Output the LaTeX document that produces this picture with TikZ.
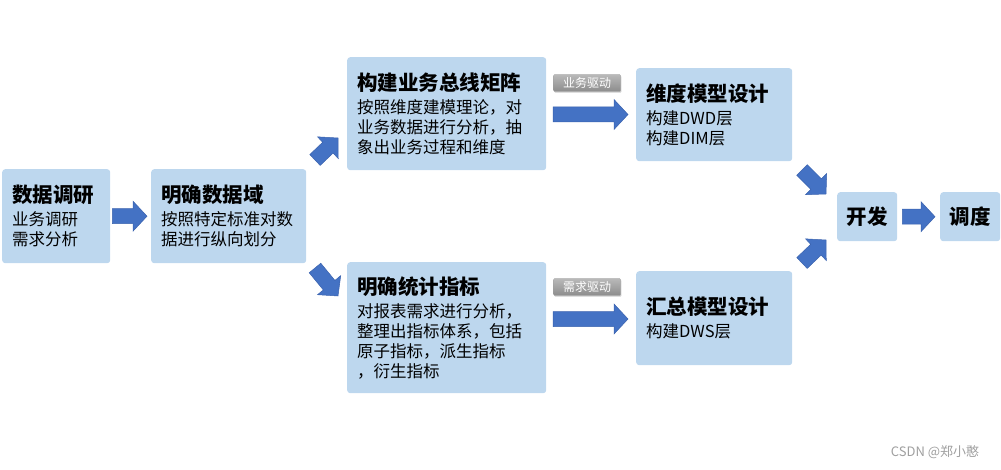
\documentclass[tikz,border=0pt]{standalone}
\usepackage{fontspec}
\setmainfont{Noto Sans CJK SC}
\usetikzlibrary{calc,shadows}
\definecolor{boxblue}{HTML}{BDD7EE}
\definecolor{arrowblue}{HTML}{4472C4}
\definecolor{arrowedge}{HTML}{3A62AE}
% block arrow from tail #1 to tip #2
\newcommand\blockarrow[2]{%
  \coordinate (hb) at ($(#2)!14pt!(#1)$);
  \filldraw[barrow] ($(#1)!7.5pt!90:(#2)$) -- ($(hb)!7.5pt!90:(#2)$) -- ($(hb)!15pt!90:(#2)$)
    -- (#2) -- ($(hb)!15pt!-90:(#2)$) -- ($(hb)!7.5pt!-90:(#2)$) -- ($(#1)!7.5pt!-90:(#2)$) -- cycle;}
\newcommand\boxtitle[1]{{\fontsize{20.5}{24}\bfseries #1}}
\begin{document}
\begin{tikzpicture}[x=1pt,y=-1pt,
  box/.style={fill=boxblue,rounded corners=3pt,anchor=north west,inner xsep=10pt,inner ysep=0pt,
    align=left,font=\fontsize{16.5}{20}\selectfont},
  smallbox/.style={fill=boxblue,rounded corners=3pt,anchor=north west,minimum width=60,minimum height=49,
    font=\fontsize{20.5}{24}\bfseries},
  tagbox/.style={top color=gray!55,bottom color=gray!90,draw=gray!75,line width=0.3pt,text=white,
    font=\fontsize{12}{14}\selectfont,minimum width=67,minimum height=17,inner sep=0pt,rounded corners=1pt,
    drop shadow={shadow xshift=0.8pt,shadow yshift=-1.2pt,opacity=0.4}},
  barrow/.style={fill=arrowblue,draw=arrowedge,line width=0.5pt}]
\useasboundingbox (0,0) rectangle (1001,470);
% boxes
\node[box,text width=88,minimum height=94] (research) at (2,169)
  {\boxtitle{数据调研}\\[3pt]业务调研\\需求分析};
\node[box,text width=135,minimum height=94] (domain) at (151,169)
  {\boxtitle{明确数据域}\\[3pt]按照特定标准对数\\据进行纵向划分};
\node[box,text width=179,minimum height=113] (busmatrix) at (347,57)
  {\boxtitle{构建业务总线矩阵}\\[3pt]按照维度建模理论，对\\业务数据进行分析，抽\\象出业务过程和维度};
\node[box,text width=179,minimum height=131] (metric) at (347,262)
  {\boxtitle{明确统计指标}\\[3pt]对报表需求进行分析，\\整理出指标体系，包括\\原子指标，派生指标\\，衍生指标};
\node[box,text width=136,minimum height=93] (dimmodel) at (636,68)
  {\boxtitle{维度模型设计}\\[3pt]构建DWD层\\构建DIM层};
\node[box,text width=136,minimum height=94] (summodel) at (636,271)
  {\boxtitle{汇总模型设计}\\[3pt]构建DWS层};
\node[smallbox] (dev) at (837,192) {开发};
\node[smallbox] (sched) at (940,192) {调度};
% tags
\node[tagbox] (tagbiz) at (587,83) {业务驱动};
\node[tagbox] (tagneed) at (587,287) {需求驱动};
% arrows
\coordinate (upt) at (315,160);
\coordinate (uph) at (338,138);
\coordinate (dnt) at (315,268);
\coordinate (dnh) at (338,296);
\coordinate (rut) at (802,170);
\coordinate (ruh) at (826,194);
\coordinate (rdt) at (802,263);
\coordinate (rdh) at (826,240);
\blockarrow{$(research.east)+(2,0)$}{$(domain.west)+(-4,0)$}
\blockarrow{upt}{uph}
\blockarrow{dnt}{dnh}
\blockarrow{553,114.5}{628,114.5}
\blockarrow{553,319}{628,319}
\blockarrow{rut}{ruh}
\blockarrow{rdt}{rdh}
\blockarrow{$(dev.east)+(5,0)$}{$(sched.west)+(-5,0)$}
% watermark
\node[text=gray!75,font=\fontsize{13}{15}\selectfont] (mark) at (935,452) {CSDN @郑小憨};
\end{tikzpicture}
\end{document}
